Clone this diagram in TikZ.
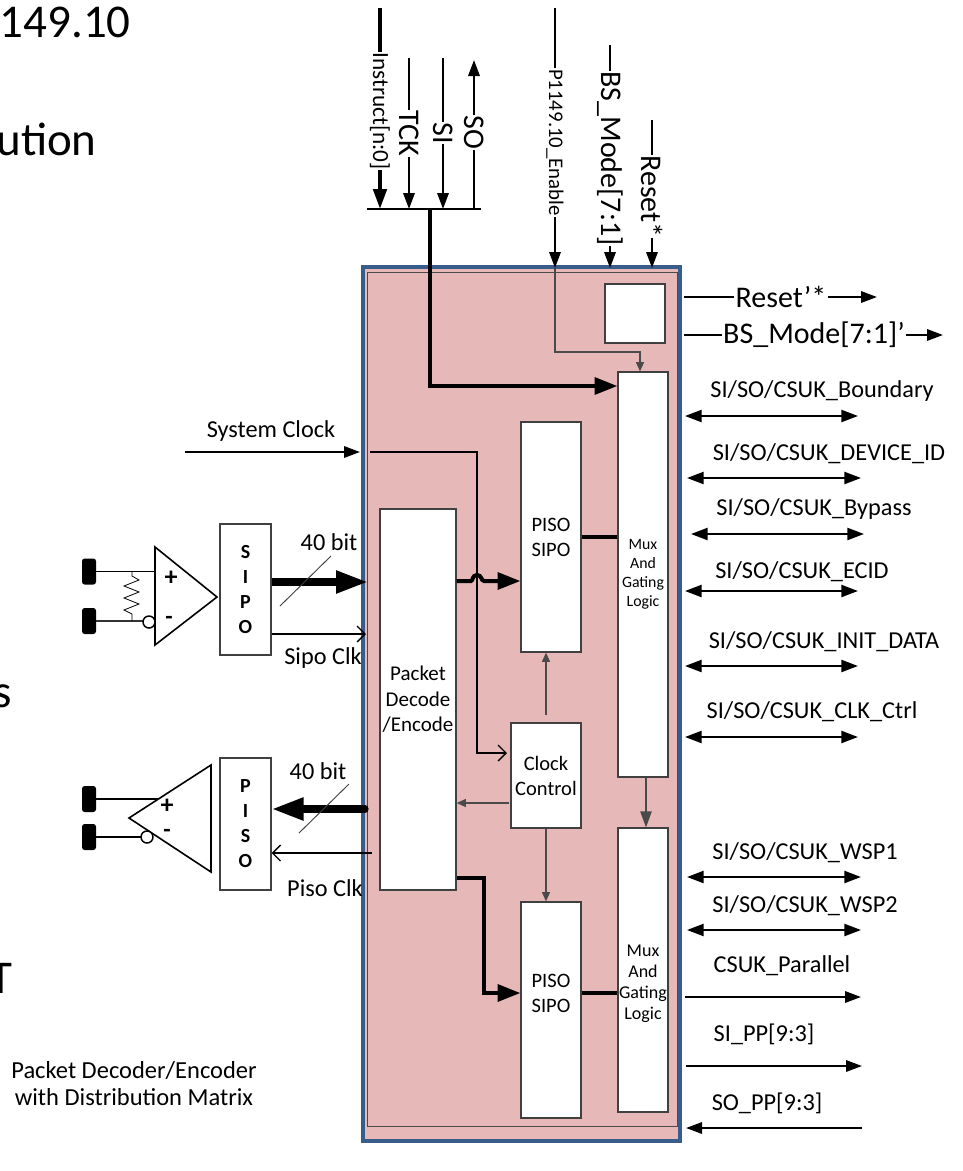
\documentclass[tikz,border=0pt]{standalone}
\usepackage{fontspec}
\setmainfont{Carlito}
\usetikzlibrary{arrows.meta}
\newcommand\Fpx[2]{\fontsize{\fpeval{#1*0.75}}{\fpeval{#2*0.75}}\selectfont}
\definecolor{pinkfill}{HTML}{E6B8B7}
\definecolor{blueedge}{HTML}{385D8A}
\definecolor{innergrey}{HTML}{4A4A4A}
\tikzset{
  wire/.style={line width=1.7pt,draw=black},
  thin wire/.style={line width=1pt,draw=innergrey},
  fat wire/.style={line width=3pt,draw=black},
  big tip/.style={-{Triangle[length=17pt,width=12.5pt]}},
  mid tip/.style={-{Triangle[length=12pt,width=8.5pt]}},
  small tip/.style={-{Triangle[length=7pt,width=6pt]}},
  both tip/.style={{Triangle[length=12.5pt,width=9pt]}-{Triangle[length=12.5pt,width=9pt]}},
  open tip/.style={-{Straight Barb[length=6pt,width=12pt,line width=1pt]}},
  blk/.style={draw=black!75,fill=white,line width=0.9pt,inner sep=0pt,align=center},
  vlabel/.style={rotate=-90,fill=white,inner sep=0.5pt},
  lbl/.style={inner sep=0pt,align=center},
  pad/.style={fill=black,draw=none,rounded corners=2pt,inner sep=0pt,minimum width=10.5pt,minimum height=19.5pt},
  amp/.style={draw=black,line width=1.2pt,line join=miter,fill=white},
  bubble/.style={circle,draw=black,line width=1.1pt,fill=white,inner sep=0pt,minimum size=9pt},
  big text/.style={font=\Fpx{47}{50}},
  side text/.style={font=\Fpx{24.3}{28}},
  box text/.style={font=\Fpx{20.5}{25}},
  mux text/.style={font=\Fpx{15.8}{19}},
  ser text/.style={font=\bfseries\Fpx{20}{25}},
}
% \Blk{name}{x0}{y0}{x1}{y1}{style}{text}
\newcommand\Blk[7]{%
  \pgfmathsetmacro\Bw{(#4-#2)*0.75}\pgfmathsetmacro\Bh{(#5-#3)*0.75}%
  \node[blk,#6,minimum width=\Bw pt,minimum height=\Bh pt] (#1) at ({(#2+#4)/2},{(#3+#5)/2}) {#7};}
% \Bi{name}{x0}{x1}{y}{label x}{label y}{text}
\newcommand\Bi[7]{%
  \coordinate (#1a) at (#2,#4); \coordinate (#1b) at (#3,#4);
  \draw[wire,both tip] (#1a) -- (#1b);
  \node[lbl,side text] (#1t) at (#5,#6) {#7};}
% \Vin{name}{x}{ytop}{yend}{label y}{font}{text}
\newcommand\Vin[7]{%
  \coordinate (#1a) at (#2,#3); \coordinate (#1b) at (#2,#4);
  \draw[wire,mid tip] (#1a) -- (#1b);
  \node[vlabel,font=#6] (#1t) at (#2,#5) {#7};}
\begin{document}
\begin{tikzpicture}[x=0.75pt,y=-0.75pt]
\useasboundingbox (0,0) rectangle (963,1171);
\clip (0,0) rectangle (963,1171);
% cut-off slide text at the left edge
\node[lbl,big text,anchor=base east] (t1) at (131,37) {149.10};
\node[lbl,big text,anchor=base east] (t2) at (97,155) {ution};
\node[lbl,big text,anchor=base east] (t3) at (12,707) {s};
\node[lbl,big text,anchor=base east] (t4) at (3,821) {)};
\node[lbl,big text,anchor=base east] (t5) at (13,993) {T};
% main block
\node[draw=blueedge,fill=pinkfill,line width=3pt,minimum width=238pt,minimum height=655pt,inner sep=0pt] (main) at (521.5,704) {};
\node[draw=innergrey,line width=0.7pt,minimum width=232pt,minimum height=641pt,inner sep=0pt] (inner) at (522.5,699.5) {};
% blocks
\Blk{rbox}{605}{284}{665}{343}{}{}
\Blk{mux1}{618}{372}{668}{777}{mux text}{Mux\\And\\Gating\\Logic}
\Blk{mux2}{618}{828}{668}{1112}{}{}
\node[lbl,font=\Fpx{18}{21}] (mux2t) at (643,984) {Mux\\And\\Gating\\Logic};
\Blk{ps1}{521}{422}{581}{652}{box text}{PISO\\SIPO}
\Blk{ps2}{521}{902}{581}{1118}{}{}
\node[lbl,box text] (ps2t) at (551,993) {PISO\\SIPO};
\Blk{clk}{511}{723}{581}{828}{box text}{Clock\\Control}
\Blk{pack}{380}{509}{456}{890}{box text,font=\Fpx{21}{25.5}}{Packet\\Decode\\/Encode}
\Blk{sipo}{220}{524}{271}{655}{ser text}{S\\I\\P\\O}
\Blk{piso}{220}{758}{271}{890}{ser text}{P\\I\\S\\O}
% top bus
\coordinate (busL) at (367,209); \coordinate (busR) at (481,209);
\draw[line width=1.7pt] (busL) -- (busR);
\coordinate (busI) at (380,209); \coordinate (busT) at (409,209);
\coordinate (busS) at (443,209); \coordinate (busO) at (474,209);
\coordinate (busF) at (430,209);
\coordinate (iTop) at (380,8);
\draw[line width=3pt,-{Triangle[length=15pt,width=10pt]}] (iTop) -- (busI);
\node[vlabel,font=\Fpx{23.2}{26}] (iLbl) at (380,111) {Instruct[n:0]};
\coordinate (tTop) at (409,58);
\draw[wire,mid tip] (tTop) -- (busT);
\node[vlabel,font=\Fpx{30}{32}] (tLbl) at (409,133.5) {TCK};
\coordinate (sTop) at (443,58);
\draw[wire,mid tip] (sTop) -- (busS);
\node[vlabel,font=\Fpx{30}{32}] (sLbl) at (443,133) {SI};
\coordinate (oTop) at (474,60);
\draw[wire,mid tip] (busO) -- (oTop);
\node[vlabel,font=\Fpx{30}{32}] (oLbl) at (474,132.5) {SO};
\Vin{en}{555}{8}{268}{142.5}{\Fpx{20.8}{24}}{P1149.10\_Enable}
\Vin{bs}{610}{45}{268}{158.5}{\Fpx{30}{32}}{BS\_Mode[7:1]}
\Vin{rs}{652}{120}{268}{196.5}{\Fpx{30}{32}}{Reset*}
% thick control bus into mux1
\draw[fat wire,big tip] (busF) -- (430,386) -- (mux1.west |- 0,386);
% enable into mux1
\draw[thin wire,small tip] (enb) -- (555,352) -- (640,352) -- (mux1.north -| 640,0);
% outputs at the top right
\coordinate (ra) at (684,297); \coordinate (rb) at (877,297);
\draw[wire,mid tip] (ra) -- (rb);
\node[lbl,fill=white,inner xsep=1pt,font=\Fpx{30}{32}] (rl) at (781,297) {Reset’*};
\coordinate (ma) at (684,335); \coordinate (mb) at (943,335);
\draw[wire,mid tip] (ma) -- (mb);
\node[lbl,fill=white,inner xsep=1pt,font=\Fpx{30}{32}] (ml) at (814,335) {BS\_Mode[7:1]’};
% right side buses
\Bi{b1}{685}{858}{416}{822}{391}{SI/SO/CSUK\_Boundary}
\Bi{b2}{687}{861}{478}{829}{454}{SI/SO/CSUK\_DEVICE\_ID}
\Bi{b3}{691}{864}{534}{814}{509}{SI/SO/CSUK\_Bypass}
\Bi{b4}{685}{858}{591}{802}{572}{SI/SO/CSUK\_ECID}
\Bi{b5}{685}{858}{666}{824}{642}{SI/SO/CSUK\_INIT\_DATA}
\Bi{b6}{685}{858}{737}{812}{712}{SI/SO/CSUK\_CLK\_Ctrl}
\Bi{b7}{687}{861}{877}{805}{853}{SI/SO/CSUK\_WSP1}
\Bi{b8}{687}{861}{930}{805}{906}{SI/SO/CSUK\_WSP2}
\coordinate (pa) at (685,997); \coordinate (pb) at (861,997);
\draw[wire,mid tip] (pa) -- (pb);
\node[lbl,side text] (pl) at (782,966) {CSUK\_Parallel};
\coordinate (qa) at (686,1066); \coordinate (qb) at (862,1066);
\draw[wire,mid tip] (qa) -- (qb);
\node[lbl,side text] (ql) at (764,1034) {SI\_PP[9:3]};
\coordinate (ua) at (862,1128); \coordinate (ub) at (686,1128);
\draw[wire,mid tip] (ua) -- (ub);
\node[lbl,side text] (ul) at (767,1103) {SO\_PP[9:3]};
% system clock
\coordinate (scA) at (185,452); \coordinate (scB) at (360,452);
\draw[wire,mid tip] (scA) -- (scB);
\node[lbl,side text] (scl) at (271,431) {System Clock};
\coordinate (scC) at (370,452); \coordinate (scD) at (507,753);
\draw[line width=1pt,open tip] (scC) -- (477,452) -- (477,753) -- (scD);
% internal data paths
\draw[fat wire,big tip] (pack.east |- 0,581) -- (471,581) .. controls (473,581) and (472,575) .. (477,575) .. controls (482,575) and (481,581) .. (484,581) -- (ps1.west |- 0,581);
\draw[fat wire] (ps1.east |- 0,537) -- (mux1.west |- 0,537);
\coordinate (cUp) at (546,715); \coordinate (cLf) at (509,803);
\draw[thin wire,small tip] (cUp) -- (ps1.south -| 546,0);
\draw[thin wire,small tip] (cLf) -- (pack.east |- 0,803);
\draw[thin wire,small tip] (clk.south -| 546,0) -- (ps2.north -| 546,0);
\draw[thin wire,mid tip] (mux1.south -| 646,0) -- (mux2.north -| 646,0);
\draw[fat wire,big tip] (pack.east |- 0,878) -- (484,878) -- (484,993) -- (ps2.west |- 0,993);
\draw[fat wire] (ps2.east |- 0,993) -- (mux2.west |- 0,993);
% SIPO side
\coordinate (sipoIn) at (368,582);
\draw[line width=5.4pt,-{Triangle[length=24pt,width=16pt]}] (sipo.east |- 0,582) -- (sipoIn);
\coordinate (s1a) at (280,606); \coordinate (s1b) at (331,556);
\draw[line width=0.7pt,draw=black!75] (s1a) -- (s1b);
\node[lbl,side text] (s1l) at (329,542) {40 bit};
\coordinate (sClk) at (366,634);
\draw[line width=1pt,open tip] (sipo.east |- 0,634) -- (sClk);
\node[lbl,side text] (s2l) at (323,658) {Sipo Clk};
% PISO side
\coordinate (pisoOut) at (365,809);
\draw[line width=5.4pt,line cap=round,-{Triangle[length=24pt,width=16pt]}] (pisoOut) -- (piso.east |- 0,809);
\coordinate (s3a) at (299,833); \coordinate (s3b) at (349,784);
\draw[line width=0.7pt,draw=black!75] (s3a) -- (s3b);
\node[lbl,side text] (s3l) at (318,771) {40 bit};
\coordinate (pClk) at (372,853);
\draw[line width=1pt,open tip] (pClk) -- (piso.east |- 0,853);
\node[lbl,side text] (s4l) at (325,888) {Piso Clk};
% receiver
\node[pad] (p1) at (89,571.5) {};
\node[pad] (p2) at (89,621) {};
\coordinate (a1) at (155,547); \coordinate (a2) at (155,645); \coordinate (a3) at (217,597);
\draw[line width=0.9pt] (p1) -- (a1 |- p1);
\draw[line width=1.1pt,draw=black!80] (p2) -- (143,621);
\draw[amp] (a1) -- (a3) -- (a2) -- cycle;
\node[bubble] (b1c) at (149,622) {};
\node[lbl,font=\bfseries\Fpx{26}{26}] (a4) at (171,578) {+};
\node[lbl,font=\bfseries\Fpx{24}{24}] (a5) at (169,620) {-};
\coordinate (r1) at (132,571); \coordinate (r2) at (132,621);
\draw[line width=0.6pt] (r1) -- (132,576) -- (139,580) -- (124,586) -- (139,592) -- (124,598) -- (139,604) -- (124,610) -- (132,614) -- (r2);
% driver
\node[pad] (p3) at (89,799) {};
\node[pad] (p4) at (89,837) {};
\coordinate (d1) at (211,765); \coordinate (d2) at (211,872); \coordinate (d3) at (129,818);
\draw[line width=0.9pt] (p3) -- (158,799);
\draw[line width=0.9pt] (p4) -- (141,837);
\draw[amp,fill=none] (d1) -- (d3) -- (d2) -- cycle;
\node[bubble] (b2c) at (147,837) {};
\node[lbl,font=\bfseries\Fpx{26}{26}] (d4) at (167,806) {+};
\node[lbl,font=\bfseries\Fpx{24}{24}] (d5) at (167,833) {-};
% caption
\node[lbl,font=\Fpx{24.5}{27}] (cap) at (134,1083.5) {Packet Decoder/Encoder\\with Distribution Matrix};
\end{tikzpicture}
\end{document}
